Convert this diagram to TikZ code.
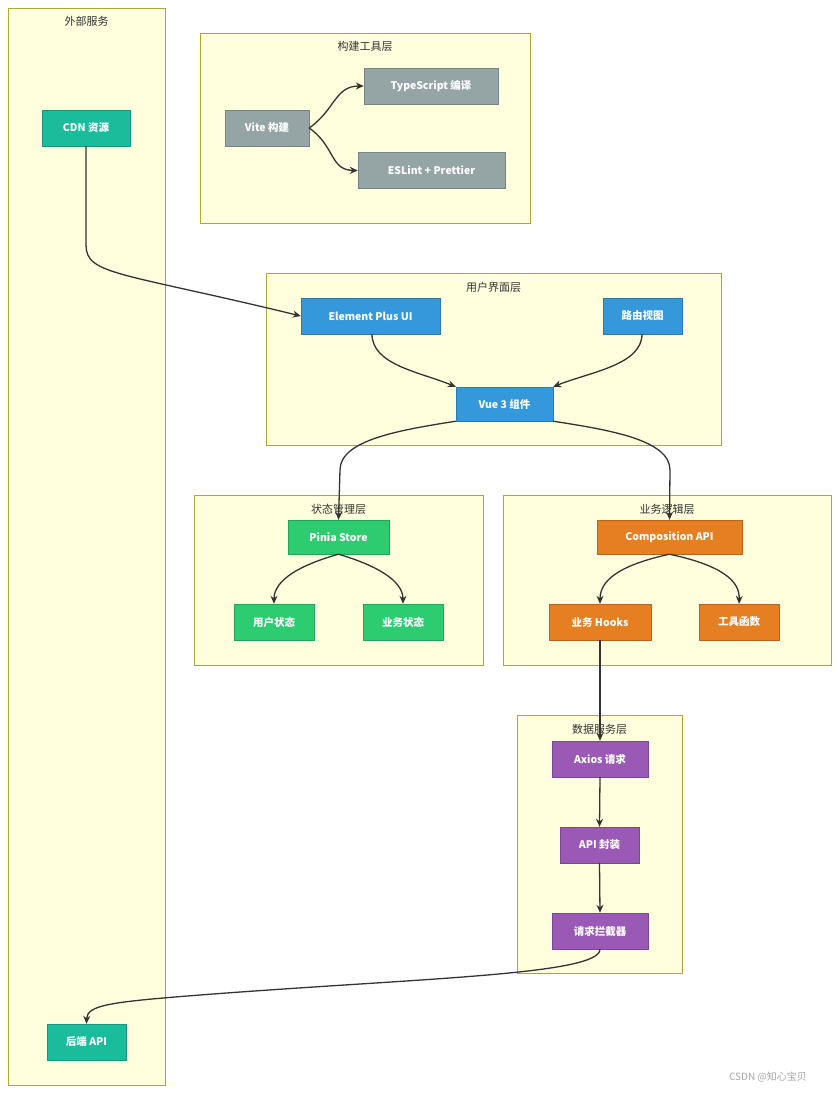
\documentclass[tikz,border=0pt]{standalone}
\usepackage{fontspec}
\setmainfont{Noto Sans CJK SC}
\usetikzlibrary{arrows.meta}
\definecolor{cl}{HTML}{FFFFDE}\definecolor{cb}{HTML}{AAAA33}
\definecolor{teal}{HTML}{1ABC9C}\definecolor{gr}{HTML}{95A5A6}
\definecolor{bl}{HTML}{3498DB}\definecolor{gn}{HTML}{2ECC71}
\definecolor{og}{HTML}{E67E22}\definecolor{pp}{HTML}{9B59B6}
\definecolor{ln}{HTML}{333333}
\begin{document}
\begin{tikzpicture}[x=1pt,y=-1pt,
 cluster/.style={draw=cb,fill=cl,line width=0.7pt},
 ctitle/.style={font=\fontsize{11}{13}\selectfont,text=ln},
 box/.style={draw=#1!80!black,fill=#1,text=white,font=\bfseries\fontsize{10.5}{12}\selectfont,minimum height=36pt,inner xsep=8pt},
 e/.style={draw=ln,line width=1.3pt,-{Stealth[length=8pt,width=7pt]}}]
\useasboundingbox (0,0) rectangle (839,1093);
\draw[cluster] (8,8) rectangle (165,1085); \node[ctitle] at (86.5,21) {外部服务};
\draw[cluster] (200,33) rectangle (530,223); \node[ctitle] at (365,46) {构建工具层};
\draw[cluster] (266,273) rectangle (721,445); \node[ctitle] at (493.5,287) {用户界面层};
\draw[cluster] (194,495) rectangle (483,665); \node[ctitle] at (338.5,509) {状态管理层};
\draw[cluster] (503,495) rectangle (831,665); \node[ctitle] at (667,509) {业务逻辑层};
\draw[cluster] (517,715) rectangle (682,973); \node[ctitle] at (599.5,729) {数据服务层};
\node[box=teal,minimum width=88pt] (cdn) at (86,128) {CDN 资源};
\node[box=teal,minimum width=79pt] (be) at (86.5,1042) {后端 API};
\node[box=gr,minimum width=84pt] (vite) at (267,128) {Vite 构建};
\node[box=gr,minimum width=134pt] (ts) at (431,86) {TypeScript 编译};
\node[box=gr,minimum width=147pt] (es) at (431.5,170.5) {ESLint + Prettier};
\node[box=bl,minimum width=139pt] (ep) at (370.5,316) {Element Plus UI};
\node[box=bl,minimum width=79pt] (rt) at (642.5,316) {路由视图};
\node[box=bl,minimum width=97pt,minimum height=34pt] (vue) at (504.5,404) {Vue 3 组件};
\node[box=gn,minimum width=101pt,minimum height=34pt] (pin) at (338.5,537) {Pinia Store};
\node[box=gn,minimum width=80pt] (us) at (274,622) {用户状态};
\node[box=gn,minimum width=80pt] (bs) at (403,622) {业务状态};
\node[box=og,minimum width=145pt,minimum height=34pt] (ca) at (669.5,537) {Composition API};
\node[box=og,minimum width=102pt] (hk) at (600,622) {业务 Hooks};
\node[box=og,minimum width=80pt] (tl) at (739,622) {工具函数};
\node[box=pp,minimum width=96pt] (ax) at (600,759) {Axios 请求};
\node[box=pp,minimum width=79pt] (api) at (599.5,845) {API 封装};
\node[box=pp,minimum width=96pt] (ic) at (600,931) {请求拦截器};
\draw[e] (cdn.south) -- (86,245) .. controls (86,275) and (120,272) .. (ep.west);
\draw[e] (vite.east) .. controls (335,110) and (335,86) .. (ts.west);
\draw[e] (vite.east) .. controls (335,146) and (330,170) .. (es.west);
\draw[e] (372,334) .. controls (372,365) and (420,372) .. (vue.north west);
\draw[e] (642,334) .. controls (642,365) and (590,372) .. (vue.north east);
\draw[e] (vue.south west) .. controls (400,430) and (340,440) .. (340,470) -- (pin.north);
\draw[e] (vue.south east) .. controls (610,430) and (670,440) .. (670,470) -- (ca.north);
\draw[e] (pin.south) .. controls (300,565) and (274,580) .. (us.north);
\draw[e] (pin.south) .. controls (375,565) and (403,580) .. (bs.north);
\draw[e] (ca.south) .. controls (620,565) and (600,580) .. (hk.north);
\draw[e] (ca.south) .. controls (720,565) and (740,580) .. (tl.north);
\draw[e] (hk.south) -- (ax.north);
\draw[e] (ax.south) -- (api.north);
\draw[e] (api.south) -- (ic.north);
\draw[e] (ic.south) .. controls (600,975) and (420,978) .. (200,995) .. controls (110,1002) and (87,1005) .. (be.north);
\node[text=gray!70,font=\fontsize{10}{12}\selectfont] at (768,1077) {CSDN @知心宝贝};
\end{tikzpicture}
\end{document}
